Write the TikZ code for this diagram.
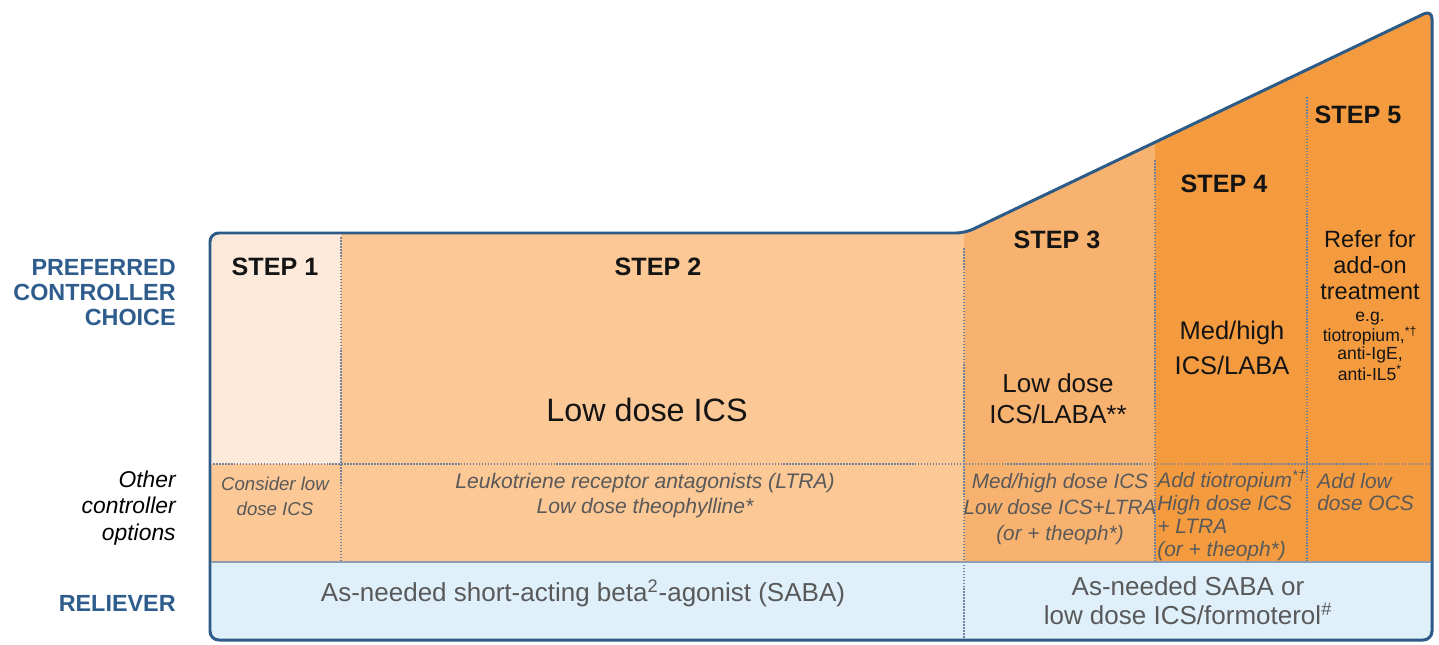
\documentclass[tikz,border=0pt]{standalone}
\usepackage{fontspec}
\setmainfont{Liberation Sans}

\begin{document}
\begin{tikzpicture}[
    x=0.02cm,
    y=-0.02cm,
    line cap=round,
    line join=round
]

\definecolor{FrameBlue}{HTML}{2C5B87}
\definecolor{LabelBlue}{HTML}{2E5C8C}
\definecolor{PaleApricot}{HTML}{FDEADB}
\definecolor{LightApricot}{HTML}{FBC896}
\definecolor{MidOrange}{HTML}{F8B270}
\definecolor{DeepOrange}{HTML}{F59B3F}
\definecolor{SkyTint}{HTML}{DFF0FB}
\definecolor{DotGray}{HTML}{74839B}
\definecolor{OptionGray}{HTML}{595959}
\definecolor{TextDark}{HTML}{141414}

\tikzset{
    step title/.style={
        inner sep=0pt,
        text=TextDark,
        font=\fontsize{14.3}{17}\selectfont\bfseries
    },
    choice text/.style args={#1/#2}{
        inner sep=0pt,
        align=center,
        text=TextDark,
        font=\fontsize{#1}{#2}\selectfont
    },
    option text/.style args={#1/#2}{
        inner sep=0pt,
        align=center,
        text=OptionGray,
        font=\fontsize{#1}{#2}\selectfont\itshape
    },
    reliever text/.style={
        inner sep=0pt,
        align=center,
        text=OptionGray,
        font=\fontsize{14.8}{16.4}\selectfont
    },
    row label/.style={
        inner sep=0pt,
        anchor=east,
        align=right,
        text=LabelBlue,
        font=\fontsize{13.3}{14.2}\selectfont\bfseries
    },
    divider/.style={
        draw=DotGray,
        line width=1.2pt,
        line cap=butt,
        dash pattern=on 0.9pt off 0.8pt
    },
    frame/.style={
        draw=FrameBlue,
        line width=1.7pt,
        rounded corners=5pt
    }
}

\useasboundingbox (0,0) rectangle (1439,645);

\coordinate (bl) at (210,640);
\coordinate (tl) at (210,233);
\coordinate (knee) at (965,233);
\coordinate (tr) at (1432,10);
\coordinate (br) at (1432,640);

\begin{scope}
    \clip[rounded corners=5pt] (bl) -- (tl) -- (knee) -- (tr) -- (br) -- cycle;
    \fill[LightApricot] (200,0) rectangle (964,562);
    \fill[PaleApricot] (200,0) rectangle (341,464);
    \fill[MidOrange] (964,0) rectangle (1155,562);
    \fill[DeepOrange] (1155,0) rectangle (1440,562);
    \fill[SkyTint] (200,562) rectangle (1440,650);
\end{scope}

\foreach \x/\ytop/\ybot/\name in {341/237/562/c12,964/248/638/c23,1155/160/562/c34,1307/97/562/c45} {
    \coordinate (\name a) at (\x,\ytop);
    \coordinate (\name b) at (\x,\ybot);
    \draw[divider] (\name a) -- (\name b);
}
\coordinate (opta) at (213,464);
\coordinate (optb) at (1429,464);
\draw[divider] (opta) -- (optb);
\coordinate (rela) at (212,562);
\coordinate (relb) at (1430,562);
\draw[draw=DotGray!80, line width=0.8pt] (rela) -- (relb);

\draw[frame] (bl) -- (tl) -- (knee) -- (tr) -- (br) -- cycle;

\node[row label] (pref) at (176,293) {PREFERRED\\CONTROLLER\\CHOICE};
\node[row label, text=black, font=\fontsize{13}{15.3}\selectfont\itshape] (other) at (176,508) {Other\\controller\\options};
\node[row label] (reliever) at (176,603) {RELIEVER};

\node[step title] (step1) at (275,267) {STEP 1};
\node[step title] (step2) at (658,267) {STEP 2};
\node[step title] (step3) at (1057,240) {STEP 3};
\node[step title] (step4) at (1224,184) {STEP 4};
\node[step title] (step5) at (1358,115) {STEP 5};

\node[choice text=18.4/22] (pick2) at (647,410) {Low dose ICS};
\node[choice text=14.8/17.6] (pick3) at (1058,399) {Low dose\\ICS/LABA**};
\node[choice text=14.5/19.8] (pick4) at (1232,348) {Med/high\\ICS/LABA};
\node[choice text=13.4/14.7] (pick5) at (1370,265) {Refer for\\add-on\\treatment};
\node[choice text=10/10.2] (pick5ex) at (1370,346) {e.g.\\tiotropium,\textsuperscript{*\dag}\\anti-IgE,\\anti-IL5\textsuperscript{*}};

\node[option text=10.6/14.2] (alt1) at (275,496) {Consider low\\dose ICS};
\node[option text=12/14.2] (alt2) at (645,496) {Leukotriene receptor antagonists (LTRA)\\Low dose theophylline*};
\node[option text=11.8/14.6] (alt3) at (1060,509) {Med/high dose ICS\\Low dose ICS+LTRA\\(or + theoph*)};
\node[option text=11.9/13, anchor=west, align=left] (alt4) at (1157,515) {Add tiotropium\textsuperscript{*\dag}\\High dose ICS\\+ LTRA\\(or + theoph*)};
\node[option text=11.9/13, anchor=west, align=left] (alt5) at (1317,492) {Add low\\dose OCS};

\node[reliever text] (relief1) at (583,593) {As-needed short-acting beta\textsuperscript{2}-agonist (SABA)};
\node[reliever text] (relief2) at (1188,601) {As-needed SABA or\\low dose ICS/formoterol\textsuperscript{\#}};

\end{tikzpicture}
\end{document}
